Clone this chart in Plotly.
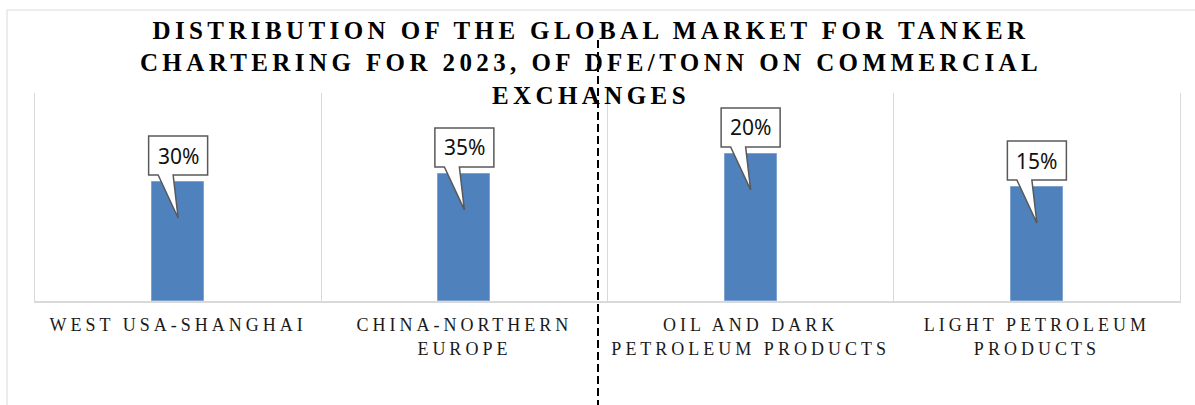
import plotly.graph_objects as go

# ---- data ----
categories = ["WEST USA-SHANGHAI", "CHINA-NORTHERN<br>EUROPE",
              "OIL AND DARK<br>PETROLEUM PRODUCTS", "LIGHT PETROLEUM<br>PRODUCTS"]
bar_values = [57.2, 61.1, 70.7, 54.8]
label_texts = ["30%", "35%", "20%", "15%"]
title_text = ("DISTRIBUTION OF THE GLOBAL MARKET FOR TANKER<br>"
              "CHARTERING FOR 2023, OF DFE/TONN ON COMMERCIAL<br>EXCHANGES")

W, H = 1195, 405
L, R, T, B = 35, 15, 93, 104
pw = W - L - R
ph = H - T - B

def px_x(p):
    return (p - L) / pw

def px_y(p):
    return (H - B - p) / ph

xs = list(range(len(categories)))

fig = go.Figure()
fig.add_trace(go.Bar(
    x=xs, y=bar_values, width=0.182,
    marker=dict(color="#4f81bd", line=dict(color="#7fa2d1", width=1)),
    hoverinfo="skip", showlegend=False,
))

shapes = []
annotations = []
callout = ("M -29.5,7 L -20,7 L 0,-36 L -5,7 L 29.5,7 "
           "L 29.5,46 L -29.5,46 Z")
for xi, v, t in zip(xs, bar_values, label_texts):
    shapes.append(dict(
        type="path", xref="x", yref="y", xsizemode="pixel", ysizemode="pixel",
        xanchor=xi, yanchor=v, path=callout,
        fillcolor="white", line=dict(color="#595959", width=1.5), layer="above",
    ))
    annotations.append(dict(
        x=xi, y=v, xref="x", yref="y", text=t, showarrow=False,
        yshift=26.5, font=dict(family="Noto Sans", size=21, color="#111111"),
    ))

# outer chart border (partially visible)
shapes.append(dict(type="rect", xref="paper", yref="paper",
                   x0=px_x(7), x1=px_x(1215), y0=px_y(10), y1=px_y(420),
                   line=dict(color="#d9d9d9", width=1), fillcolor="rgba(0,0,0,0)",
                   layer="below"))
# dashed divider
shapes.append(dict(type="line", xref="paper", yref="paper",
                   x0=px_x(598), x1=px_x(598), y0=px_y(40), y1=px_y(420),
                   line=dict(color="black", width=2, dash="8px,4px")))

fig.update_layout(
    width=W, height=H,
    margin=dict(l=L, r=R, t=T, b=B, pad=0),
    paper_bgcolor="white", plot_bgcolor="white",
    title=dict(text=title_text, x=591 / W, xanchor="center",
               y=1 - 38.7 / H, yanchor="top", yref="container",
               font=dict(family="Liberation Serif", size=25, color="black",
                         weight="bold")),
    shapes=shapes, annotations=annotations,
    bargap=0,
    xaxis=dict(range=[-0.5, 3.5], tickmode="array", tickvals=xs,
               ticktext=categories, showgrid=False, zeroline=False,
               ticks="", showline=True, linecolor="#d9d9d9", linewidth=1.5,
               ticklabelstandoff=7,
               tickfont=dict(family="Liberation Serif", size=18, color="#1a1a1a"),
               minor=dict(tickvals=[0.5, 1.5, 2.5], showgrid=True,
                          gridcolor="#d9d9d9", gridwidth=1, ticks="")),
    yaxis=dict(range=[0, 100], showgrid=False, zeroline=False,
               showticklabels=False, ticks="", showline=True, mirror=True,
               linecolor="#d9d9d9", linewidth=1),
)

post = """
var gd = document.getElementById('{plot_id}');
function sp(){
  gd.querySelectorAll('.gtitle').forEach(function(e){e.style.letterSpacing='4.4px';});
  gd.querySelectorAll('.xtick text').forEach(function(e){e.style.letterSpacing='4px';});
}
sp();
gd.on('plotly_afterplot', sp);
"""

fig.write_html("out.html", post_script=post)
